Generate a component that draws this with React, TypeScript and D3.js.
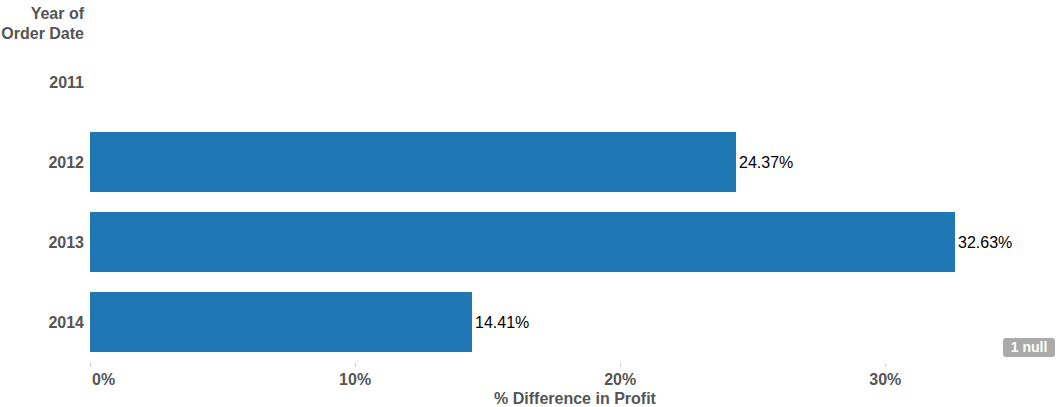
import React from "react";
import * as d3 from "d3";

const years = ["2011", "2012", "2013", "2014"];
const values: (number | null)[] = [null, 0.2437, 0.3263, 0.1441];
const ticks = [0, 0.1, 0.2, 0.3];
const tickLabels = ["0%", "10%", "20%", "30%"];

export default function App() {
  const W = 1059, H = 407;
  const x = d3.scaleLinear().domain([0, 0.36]).range([90, 90 + 36 * 26.51]);
  const y = d3.scaleBand().domain(years).range([42, 362]).paddingInner(0.25).paddingOuter(0.125);
  const font = "'Liberation Sans', Arial, sans-serif";
  return (
    <svg width={W} height={H} style={{ position: "absolute", left: 0, top: 0, fontFamily: font }}>
      <text x={84} y={19} textAnchor="end" fontWeight="bold" fontSize={16} fill="#555">Year of</text>
      <text x={84} y={39} textAnchor="end" fontWeight="bold" fontSize={16} fill="#555">Order Date</text>
      {years.map((yr, i) => (
        <g key={yr}>
          <text x={84} y={(y(yr) as number) + y.bandwidth() / 2 + 6} textAnchor="end" fontWeight="bold" fontSize={16} fill="#555">{yr}</text>
          {values[i] != null && (
            <>
              <rect x={x(0)} y={y(yr)} width={x(values[i] as number) - x(0)} height={y.bandwidth()} fill="#1f77b4" />
              <text x={x(values[i] as number) + 3} y={(y(yr) as number) + y.bandwidth() / 2 + 6} fontSize={16} fill="#000">
                {((values[i] as number) * 100).toFixed(2)}%
              </text>
            </>
          )}
        </g>
      ))}
      {ticks.map((t, i) => (
        <g key={t}>
          <line x1={x(t) + 0.5} x2={x(t) + 0.5} y1={363} y2={367} stroke="#ccc" />
          <text x={i === 0 ? x(t) + 2 : x(t)} y={385} textAnchor={i === 0 ? "start" : "middle"} fontWeight="bold" fontSize={16} fill="#555">{tickLabels[i]}</text>
        </g>
      ))}
      <text x={575} y={404} textAnchor="middle" fontWeight="bold" fontSize={16} fill="#555">% Difference in Profit</text>
      <rect x={1003} y={338} width={52} height={19} rx={3} fill="#aaa" />
      <text x={1029} y={352} textAnchor="middle" fontWeight="bold" fontSize={14} fill="#fff">1 null</text>
    </svg>
  );
}
